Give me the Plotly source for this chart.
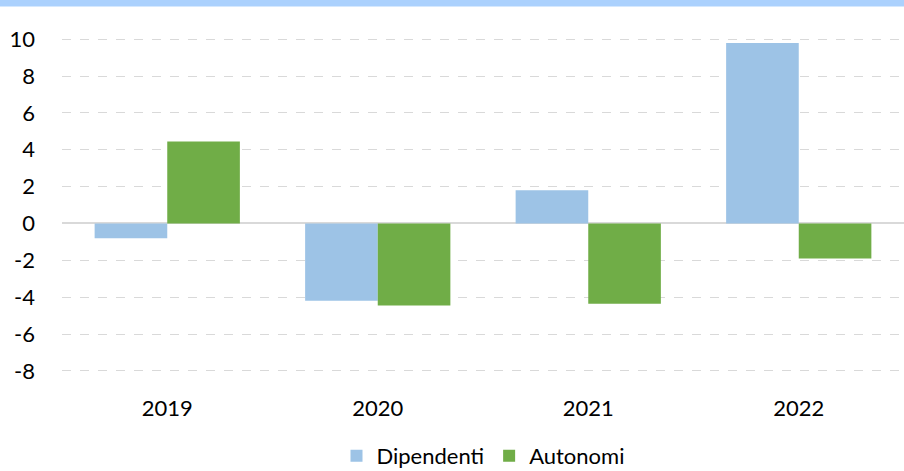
import plotly.graph_objects as go

years = ["2019", "2020", "2021", "2022"]
dipendenti = [-0.8, -4.2, 1.8, 9.8]
autonomi = [4.45, -4.45, -4.35, -1.9]
y_ticks = [-8, -6, -4, -2, 0, 2, 4, 6, 8, 10]

FONT = "Lato, Calibri, Carlito, sans-serif"
FS = 22

fig = go.Figure()
fig.add_trace(go.Bar(x=years, y=dipendenti, name="Dipendenti",
                     marker=dict(color="#9DC3E6", line=dict(width=0))))
fig.add_trace(go.Bar(x=years, y=autonomi, name="Autonomi",
                     marker=dict(color="#70AD47", line=dict(width=0))))

T, B = 30, 393
H = B - T
fig.add_shape(type="rect", xref="paper", yref="paper", x0=-1, x1=2,
              y0=1 + (T - 6.5) / H, y1=1 + (T + 2) / H,
              fillcolor="#ABD1FD", line=dict(width=0), layer="above")

fig.update_layout(
    width=904, height=471,
    margin=dict(l=62, r=0, t=T, b=471 - B),
    paper_bgcolor="white", plot_bgcolor="white",
    barmode="group", bargap=0.31, bargroupgap=0,
    font=dict(family=FONT, size=FS, color="#000000"),
    showlegend=True,
    legend=dict(orientation="h", x=0.5, xanchor="center",
                yref="container", y=1 - 456 / 471, yanchor="middle",
                font=dict(size=FS), itemwidth=30, traceorder="normal"),
    xaxis=dict(showgrid=False, showline=False, ticks="", tickfont=dict(size=FS)),
    yaxis=dict(range=[-9.2, 10.5], tickvals=y_ticks, ticktext=[str(v) for v in y_ticks],
               showgrid=True, gridcolor="#D9D9D9", griddash="dash", gridwidth=1,
               zeroline=True, zerolinecolor="#D9D9D9", zerolinewidth=1.5,
               showline=False, ticks="", ticklabelstandoff=26, tickfont=dict(size=FS)),
)

fig.write_html("out.html", config={"displayModeBar": False},
               post_script="document.body.style.margin='0';")
